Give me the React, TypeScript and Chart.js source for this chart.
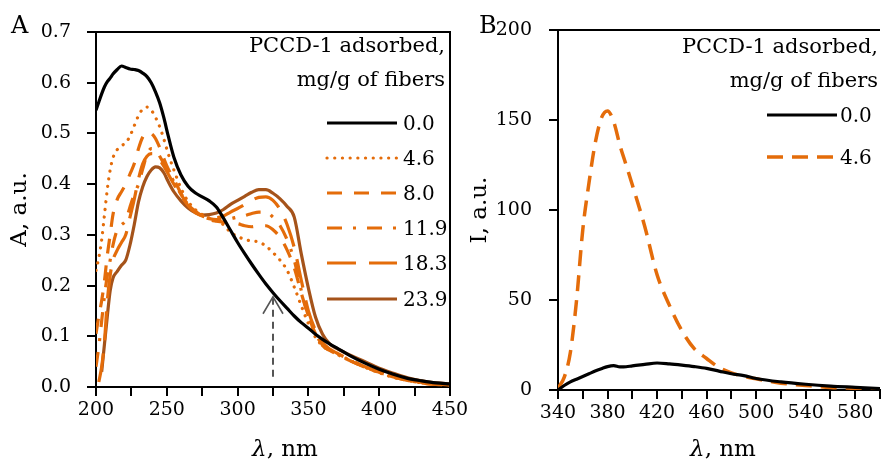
import React, { useEffect, useRef } from 'react';
import { Chart, registerables } from 'chart.js';

Chart.register(...registerables);

const FONT = "'DejaVu Serif', 'Liberation Serif', serif";
const BLACK = '#000000';
const ORANGE = '#E46C0A';
const BROWN = '#A5531A';
const ARROW_GRAY = '#555555';

// ---------- Panel A: absorbance ----------
const wavelengthA = [200, 202, 204, 206, 208, 210, 212, 215, 218, 221, 224, 227, 230, 233, 236, 239, 242, 245, 248, 251, 255, 260, 265, 270, 275, 280, 285, 290, 295, 300, 305, 310, 315, 320, 325, 330, 335, 340, 345, 350, 355, 360, 365, 370, 380, 390, 400, 410, 420, 430, 440, 450];
const absA_0_0 = [0.546, 0.562, 0.578, 0.592, 0.602, 0.609, 0.617, 0.626, 0.633, 0.630, 0.627, 0.626, 0.624, 0.619, 0.612, 0.600, 0.582, 0.560, 0.530, 0.495, 0.453, 0.418, 0.396, 0.383, 0.375, 0.367, 0.355, 0.333, 0.309, 0.285, 0.263, 0.242, 0.222, 0.203, 0.186, 0.170, 0.155, 0.140, 0.127, 0.116, 0.104, 0.094, 0.085, 0.077, 0.061, 0.047, 0.035, 0.025, 0.017, 0.012, 0.008, 0.006];
const absA_4_6 = [0.23, 0.255, 0.29, 0.34, 0.39, 0.428, 0.452, 0.468, 0.476, 0.481, 0.495, 0.515, 0.535, 0.548, 0.552, 0.546, 0.532, 0.513, 0.488, 0.46, 0.428, 0.392, 0.366, 0.35, 0.34, 0.333, 0.328, 0.32, 0.305, 0.297, 0.291, 0.288, 0.286, 0.278, 0.265, 0.25, 0.23, 0.197, 0.16, 0.125, 0.098, 0.081, 0.072, 0.066, 0.052, 0.039, 0.028, 0.019, 0.013, 0.008, 0.005, 0.004];
const absA_8_0 = [0.105, 0.14, 0.17, 0.21, 0.26, 0.30, 0.34, 0.37, 0.385, 0.40, 0.42, 0.44, 0.47, 0.493, 0.502, 0.50, 0.49, 0.472, 0.45, 0.43, 0.41, 0.382, 0.36, 0.347, 0.337, 0.33, 0.327, 0.325, 0.324, 0.322, 0.318, 0.316, 0.318, 0.318, 0.31, 0.295, 0.27, 0.235, 0.185, 0.14, 0.105, 0.082, 0.072, 0.065, 0.051, 0.039, 0.029, 0.02, 0.013, 0.008, 0.005, 0.004];
const absA_11_9 = [0.04, 0.08, 0.13, 0.18, 0.22, 0.25, 0.28, 0.31, 0.32, 0.328, 0.355, 0.38, 0.40, 0.43, 0.458, 0.47, 0.468, 0.455, 0.44, 0.425, 0.405, 0.38, 0.36, 0.345, 0.337, 0.332, 0.33, 0.33, 0.332, 0.335, 0.338, 0.342, 0.345, 0.345, 0.335, 0.318, 0.29, 0.25, 0.19, 0.14, 0.105, 0.083, 0.072, 0.065, 0.051, 0.039, 0.029, 0.02, 0.013, 0.008, 0.005, 0.004];
const absA_18_3 = [null, 0.01, 0.04, 0.09, 0.17, 0.22, 0.25, 0.27, 0.285, 0.30, 0.335, 0.37, 0.41, 0.44, 0.455, 0.46, 0.458, 0.448, 0.435, 0.42, 0.40, 0.378, 0.358, 0.344, 0.337, 0.334, 0.334, 0.337, 0.345, 0.352, 0.36, 0.368, 0.374, 0.375, 0.368, 0.35, 0.32, 0.275, 0.21, 0.15, 0.112, 0.088, 0.075, 0.067, 0.053, 0.04, 0.03, 0.021, 0.014, 0.009, 0.006, 0.004];
const absA_23_9 = [null, null, 0.03, 0.085, 0.14, 0.19, 0.215, 0.228, 0.24, 0.25, 0.28, 0.32, 0.365, 0.395, 0.415, 0.428, 0.434, 0.432, 0.422, 0.405, 0.385, 0.367, 0.353, 0.344, 0.339, 0.34, 0.343, 0.35, 0.36, 0.368, 0.376, 0.384, 0.389, 0.389, 0.382, 0.371, 0.356, 0.335, 0.262, 0.195, 0.138, 0.104, 0.085, 0.076, 0.062, 0.05, 0.037, 0.027, 0.018, 0.012, 0.008, 0.006];
const legendLabelsA = ['0.0', '4.6', '8.0', '11.9', '18.3', '23.9'];
const arrowWavelength = 325;
const arrowFrom = 0.02;
const arrowTo = 0.178;

// ---------- Panel B: fluorescence ----------
const wavelengthB = [340, 345, 350, 355, 360, 365, 370, 375, 380, 385, 390, 395, 400, 410, 420, 430, 440, 450, 460, 470, 480, 490, 500, 520, 540, 560, 580, 600];
const fluB_0_0 = [0, 2.5, 4.5, 6, 7.5, 9, 10.5, 11.8, 13, 13.5, 12.8, 12.9, 13.4, 14.2, 15, 14.5, 13.8, 13, 12, 10.5, 9, 8, 6.4, 4.5, 3.2, 2.2, 1.5, 0.8];
const fluB_4_6 = [1, 7, 21, 50, 89, 115, 137, 151, 155, 149, 136, 125, 114, 91, 64, 47, 33, 23, 17.5, 12.5, 9.5, 7.5, 6.2, 3.8, 2.5, 1.4, 0.9, 0.4];
const legendLabelsB = ['0.0', '4.6'];

const legendTitle = ['PCCD-1 adsorbed,', 'mg/g of fibers'];

const pts = (xs: number[], ys: (number | null)[]) => xs.map((x, i) => ({ x, y: ys[i] }));

type Spec = {
  panel: string;
  panelX: number;
  panelY: number;
  yTitle: string;
  yTitleX: number;
  xTitleOffset: number;
  xTitleY: number;
  titleYs: number[];
  legendRight: number;
  entryYs: number[];
  lineX0: number;
  lineX1: number;
  labelX: number;
  labels: string[];
  frameRight: boolean;
  arrow?: boolean;
};

function decorPlugin(spec: Spec) {
  return {
    id: 'decor' + spec.panel,
    afterDraw(chart: any) {
      const { ctx, chartArea: ca } = chart;
      ctx.save();
      // frame
      ctx.strokeStyle = BLACK;
      ctx.lineWidth = 2;
      ctx.setLineDash([]);
      ctx.beginPath();
      ctx.moveTo(ca.left, ca.top);
      ctx.lineTo(ca.right + (spec.frameRight ? 1 : 0), ca.top);
      if (spec.frameRight) {
        ctx.moveTo(ca.right, ca.top);
        ctx.lineTo(ca.right, ca.bottom);
      }
      ctx.stroke();

      // arrow
      if (spec.arrow) {
        const xs = chart.scales.x;
        const ys = chart.scales.y;
        const ax = xs.getPixelForValue(arrowWavelength);
        const y0 = ys.getPixelForValue(arrowFrom);
        const y1 = ys.getPixelForValue(arrowTo);
        ctx.strokeStyle = ARROW_GRAY;
        ctx.lineWidth = 2;
        ctx.setLineDash([7, 5]);
        ctx.beginPath();
        ctx.moveTo(ax, y0);
        ctx.lineTo(ax, y1 + 2);
        ctx.stroke();
        ctx.setLineDash([]);
        ctx.lineWidth = 1.6;
        ctx.beginPath();
        ctx.moveTo(ax - 10, y1 + 17);
        ctx.lineTo(ax, y1);
        ctx.lineTo(ax + 10, y1 + 17);
        ctx.stroke();
      }

      ctx.fillStyle = BLACK;
      // panel letter
      ctx.font = `24px ${FONT}`;
      ctx.textAlign = 'left';
      ctx.textBaseline = 'alphabetic';
      ctx.fillText(spec.panel, spec.panelX, spec.panelY);

      // x title with italic lambda
      const cx = (ca.left + ca.right) / 2 + spec.xTitleOffset;
      ctx.font = `italic 23px ${FONT}`;
      const w1 = ctx.measureText('λ').width;
      ctx.font = `23px ${FONT}`;
      const w2 = ctx.measureText(', nm').width;
      const sx = cx - (w1 + w2) / 2;
      ctx.font = `italic 23px ${FONT}`;
      ctx.fillText('λ', sx, spec.xTitleY);
      ctx.font = `23px ${FONT}`;
      ctx.fillText(', nm', sx + w1, spec.xTitleY);

      // y title
      ctx.save();
      ctx.translate(spec.yTitleX, (ca.top + ca.bottom) / 2);
      ctx.rotate(-Math.PI / 2);
      ctx.textAlign = 'center';
      ctx.textBaseline = 'middle';
      ctx.font = `23px ${FONT}`;
      ctx.fillText(spec.yTitle, 0, 0);
      ctx.restore();

      // legend title
      ctx.font = `21px ${FONT}`;
      ctx.textAlign = 'right';
      ctx.textBaseline = 'alphabetic';
      legendTitle.forEach((t, i) => ctx.fillText(t, spec.legendRight, spec.titleYs[i]));

      // legend entries
      chart.data.datasets.forEach((ds: any, i: number) => {
        const y = spec.entryYs[i];
        ctx.strokeStyle = ds.borderColor;
        ctx.lineWidth = ds.borderWidth;
        ctx.lineCap = ds.borderCapStyle || 'butt';
        ctx.setLineDash(ds.borderDash || []);
        ctx.beginPath();
        ctx.moveTo(spec.lineX0, y);
        ctx.lineTo(spec.lineX1, y);
        ctx.stroke();
        ctx.setLineDash([]);
        ctx.lineCap = 'butt';
        ctx.fillStyle = BLACK;
        ctx.font = `20px ${FONT}`;
        ctx.textAlign = 'left';
        ctx.textBaseline = 'alphabetic';
        ctx.fillText(spec.labels[i], spec.labelX, y + 7);
      });
      ctx.restore();
    },
  };
}

function lineDs(label: string, data: any[], color: string, dash: number[], cap: string, width: number) {
  return {
    label,
    data,
    borderColor: color,
    backgroundColor: color,
    borderWidth: width,
    borderDash: dash,
    borderCapStyle: cap,
    pointRadius: 0,
    fill: false,
    cubicInterpolationMode: 'monotone',
    spanGaps: false,
  };
}

function axisBase() {
  return {
    type: 'linear',
    grid: { display: true, drawOnChartArea: false, drawTicks: true, tickLength: 9, color: BLACK, lineWidth: 2 },
    border: { display: true, color: BLACK, width: 2 },
  };
}

export default function App() {
  const refA = useRef<HTMLCanvasElement>(null);
  const refB = useRef<HTMLCanvasElement>(null);

  useEffect(() => {
    Chart.defaults.font.family = FONT;
    Chart.defaults.color = BLACK;

    const specA: Spec = {
      panel: 'A', panelX: 11, panelY: 33,
      yTitle: 'A, a.u.', yTitleX: 20,
      xTitleOffset: 12, xTitleY: 456,
      titleYs: [52, 86], legendRight: 445,
      entryYs: [123, 158, 193, 228, 263, 299],
      lineX0: 327, lineX1: 397, labelX: 403,
      labels: legendLabelsA, frameRight: true, arrow: true,
    };
    const specB: Spec = {
      panel: 'B', panelX: 19, panelY: 33,
      yTitle: 'I, a.u.', yTitleX: 20,
      xTitleOffset: 4, xTitleY: 456,
      titleYs: [53, 87], legendRight: 418,
      entryYs: [115, 157],
      lineX0: 307, lineX1: 377, labelX: 380,
      labels: legendLabelsB, frameRight: false,
    };

    const chartA = new Chart(refA.current as HTMLCanvasElement, {
      type: 'line',
      data: {
        datasets: [
          lineDs(legendLabelsA[0], pts(wavelengthA, absA_0_0), BLACK, [], 'butt', 3.2),
          lineDs(legendLabelsA[1], pts(wavelengthA, absA_4_6), ORANGE, [0.1, 7.6], 'round', 3.2),
          lineDs(legendLabelsA[2], pts(wavelengthA, absA_8_0), ORANGE, [15, 12], 'butt', 3.2),
          lineDs(legendLabelsA[3], pts(wavelengthA, absA_11_9), ORANGE, [15, 11, 3, 11], 'butt', 3.2),
          lineDs(legendLabelsA[4], pts(wavelengthA, absA_18_3), ORANGE, [29, 13], 'butt', 3.2),
          lineDs(legendLabelsA[5], pts(wavelengthA, absA_23_9), BROWN, [], 'butt', 3.2),
        ] as any,
      },
      options: {
        responsive: false,
        animation: false,
        devicePixelRatio: 1,
        layout: { padding: { top: 32, right: 30, left: 0, bottom: 0 } },
        plugins: { legend: { display: false }, tooltip: { enabled: false } },
        scales: {
          x: {
            ...axisBase(),
            min: 200, max: 450,
            ticks: {
              stepSize: 25, autoSkip: false, maxRotation: 0, minRotation: 0, padding: 3,
              color: BLACK, font: { family: FONT, size: 19 },
              callback: (v: any) => (Number(v) % 50 === 0 ? String(v) : ''),
            },
            afterFit: (s: any) => { s.height = 72; },
          },
          y: {
            ...axisBase(),
            min: 0, max: 0.7,
            ticks: {
              stepSize: 0.1, padding: 16, color: BLACK, font: { family: FONT, size: 19 },
              callback: (v: any) => Number(v).toFixed(1),
            },
            afterFit: (s: any) => { s.width = 96; },
          },
        },
      } as any,
      plugins: [decorPlugin(specA)],
    } as any);

    const chartB = new Chart(refB.current as HTMLCanvasElement, {
      type: 'line',
      data: {
        datasets: [
          lineDs(legendLabelsB[0], pts(wavelengthB, fluB_0_0), BLACK, [], 'butt', 3.2),
          lineDs(legendLabelsB[1], pts(wavelengthB, fluB_4_6), ORANGE, [16, 9], 'butt', 3.5),
        ] as any,
      },
      options: {
        responsive: false,
        animation: false,
        devicePixelRatio: 1,
        layout: { padding: { top: 30, right: 0, left: 0, bottom: 0 } },
        plugins: { legend: { display: false }, tooltip: { enabled: false } },
        scales: {
          x: {
            ...axisBase(),
            min: 340, max: 600,
            ticks: {
              stepSize: 20, autoSkip: false, maxRotation: 0, minRotation: 0, padding: 3,
              color: BLACK, font: { family: FONT, size: 19 },
              callback: (v: any) => ((Number(v) - 340) % 40 === 0 ? String(v) : ''),
            },
            afterFit: (s: any) => { s.height = 69; },
          },
          y: {
            ...axisBase(),
            min: 0, max: 200,
            ticks: {
              stepSize: 50, padding: 17, color: BLACK, font: { family: FONT, size: 19 },
            },
            afterFit: (s: any) => { s.width = 98; },
          },
        },
      } as any,
      plugins: [decorPlugin(specB)],
    } as any);

    return () => {
      chartA.destroy();
      chartB.destroy();
    };
  }, []);

  return (
    <div style={{ position: 'fixed', left: 0, top: 0, width: 882, height: 459, overflow: 'hidden', background: '#ffffff' }}>
      <canvas ref={refA} width={480} height={459} style={{ position: 'absolute', left: 0, top: 0, width: 480, height: 459 }} />
      <canvas ref={refB} width={423} height={459} style={{ position: 'absolute', left: 460, top: 0, width: 423, height: 459 }} />
    </div>
  );
}
